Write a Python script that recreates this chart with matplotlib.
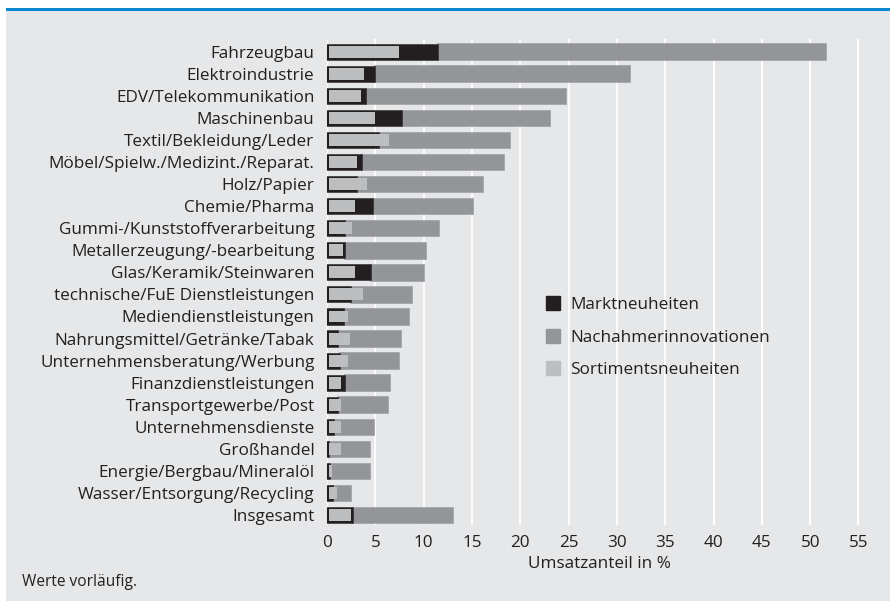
import numpy as np
import matplotlib.pyplot as plt
from matplotlib.lines import Line2D

# Daten
branchen = ["Fahrzeugbau", "Elektroindustrie", "EDV/Telekommunikation", "Maschinenbau",
            "Textil/Bekleidung/Leder", "Möbel/Spielw./Medizint./Reparat.", "Holz/Papier",
            "Chemie/Pharma", "Gummi-/Kunststoffverarbeitung", "Metallerzeugung/-bearbeitung",
            "Glas/Keramik/Steinwaren", "technische/FuE Dienstleistungen", "Mediendienstleistungen",
            "Nahrungsmittel/Getränke/Tabak", "Unternehmensberatung/Werbung",
            "Finanzdienstleistungen", "Transportgewerbe/Post", "Unternehmensdienste",
            "Großhandel", "Energie/Bergbau/Mineralöl", "Wasser/Entsorgung/Recycling", "Insgesamt"]
markt = [11.4, 4.9, 3.9, 7.7, 5.3, 3.5, 3.0, 4.7, 1.8, 1.8,
         4.5, 2.4, 1.7, 1.0, 1.2, 1.8, 1.0, 0.6, 0.1, 0.2, 0.5, 2.6]
nachahmer = [40.2, 26.5, 20.8, 15.4, 13.6, 14.8, 13.1, 10.4, 9.8, 8.4,
             5.5, 6.4, 6.8, 6.7, 6.3, 4.7, 5.3, 4.3, 4.4, 4.3, 2.0, 10.4]
sortiment = [7.4, 3.8, 3.5, 5.0, 6.4, 3.1, 4.1, 2.9, 2.6, 1.7,
             2.9, 3.7, 2.2, 2.4, 2.2, 1.5, 1.5, 1.4, 1.4, 0.5, 1.0, 2.5]
xticks = np.arange(0, 60, 5)

c_bg = "#e6e7e8"
c_dark = "#231f20"
c_mid = "#939598"
c_light = "#bcbec0"
c_text = "#231f20"

plt.rcParams['font.family'] = ['Open Sans', 'DejaVu Sans']
plt.rcParams['font.size'] = 12.3

fig = plt.figure(figsize=(8.9, 6.01), dpi=100)
fig.patch.set_facecolor("white")
# grauer Hintergrund + blaue Linie
fig.patches.append(plt.Rectangle((6 / 890, 0), 1, 590 / 601, transform=fig.transFigure,
                                 facecolor=c_bg, edgecolor="none", zorder=-10))
fig.patches.append(plt.Rectangle((6 / 890, 590 / 601), 1, 3 / 601, transform=fig.transFigure,
                                 facecolor="#0a88d0", edgecolor="none", zorder=-9))

ax = fig.add_axes([327 / 890, 76 / 601, 545 / 890, 486 / 601])
ax.patch.set_alpha(0)

y = np.arange(len(branchen))
inset = 0.25  # schwarzer Rand links
ax.barh(y, nachahmer, left=markt, height=0.75, color=c_mid, edgecolor="#a4a6a9",
        linewidth=0.6, zorder=2)
ax.barh(y, markt, height=0.64, color=c_dark, edgecolor=c_dark, linewidth=1.8, zorder=3)
ax.barh(y, np.array(sortiment) - inset, left=inset, height=0.54, color=c_light,
        edgecolor="none", zorder=4)

ax.set_ylim(len(branchen) - 0.55, -0.575)
ax.set_xlim(0, 56.4)
ax.set_yticks(y)
ax.set_yticklabels(branchen, color=c_text)
ax.set_xticks(xticks)
ax.set_xticklabels([str(t) for t in xticks], color=c_text)
ax.tick_params(length=0)
ax.tick_params(axis="y", pad=9)
ax.tick_params(axis="x", pad=7)
ax.grid(axis="x", color="white", linewidth=1.3, zorder=1)
ax.set_axisbelow(True)
for s in ax.spines.values():
    s.set_visible(False)
ax.set_xlabel("Umsatzanteil in %", color=c_text, labelpad=4)

handles = [Line2D([], [], marker="s", linestyle="none", markersize=10, color=c)
           for c in (c_dark, c_mid, c_light)]
ax.legend(handles, ["Marktneuheiten", "Nachahmerinnovationen", "Sortimentsneuheiten"],
          loc="upper left", bbox_to_anchor=((529 - 327) / 545, 1 - (282 - 39) / 486),
          frameon=False, labelspacing=0.95, handletextpad=0.5, handlelength=1.0,
          labelcolor=c_text)

fig.text(22 / 890, 19 / 601, "Werte vorläufig.", color=c_text, fontsize=11.2, va="center")

fig.savefig("out.png", dpi=100, facecolor=fig.get_facecolor())
